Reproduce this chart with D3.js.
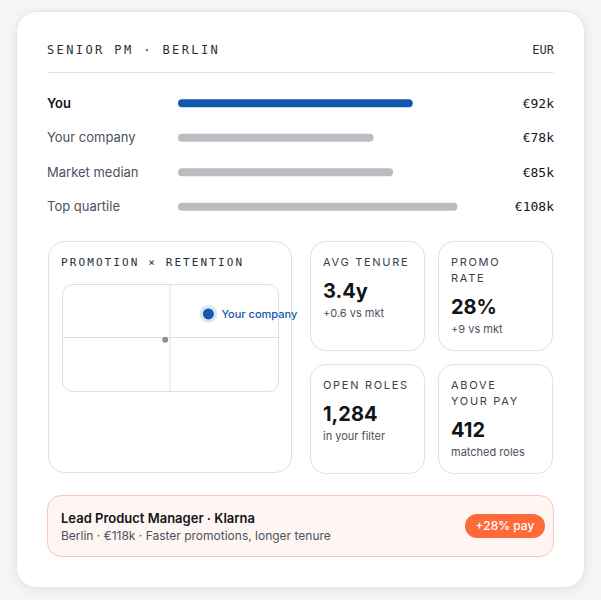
<!DOCTYPE html>
<html>
<head>
<meta charset="utf-8">
<script src="https://cdn.jsdelivr.net/npm/d3@7"></script>
<style>
  html, body { margin: 0; padding: 0; background: #f4f5f7; }
  svg { display: block; }
  text { font-family: Inter, "Liberation Sans", Arial, sans-serif; }
  .mono { font-family: "DejaVu Sans Mono", monospace; }
</style>
</head>
<body>
<div id="chart"></div>
<script>
// salary comparison
const rowLabels = ["You", "Your company", "Market median", "Top quartile"];
const salaries = [92, 78, 85, 108];

// quadrant: promotion rate (%) vs tenure (years)
const quadNames = ["Market", "Your company"];
const promoRates = [19, 28];
const tenures = [2.8, 3.4];

// stat tiles
const statLabels = [["AVG TENURE"], ["PROMO", "RATE"], ["OPEN ROLES"], ["ABOVE", "YOUR PAY"]];
const statValues = ["3.4y", "28%", "1,284", "412"];
const statNotes = ["+0.6 vs mkt", "+9 vs mkt", "in your filter", "matched roles"];

const W = 601, H = 600;
const svg = d3.select("#chart").append("svg")
    .attr("width", W).attr("height", H);

const defs = svg.append("defs");
const f = defs.append("filter").attr("id", "shadow")
    .attr("x", "-10%").attr("y", "-10%").attr("width", "120%").attr("height", "120%");
f.append("feDropShadow").attr("dx", 0).attr("dy", 2).attr("stdDeviation", 4)
    .attr("flood-color", "#000").attr("flood-opacity", 0.08);

// card
svg.append("rect")
    .attr("x", 16.5).attr("y", 11.5).attr("width", 568).attr("height", 576)
    .attr("rx", 20)
    .attr("fill", "#fff").attr("stroke", "#e3e5e8")
    .attr("filter", "url(#shadow)");

// header
svg.append("text").attr("class", "mono")
    .attr("x", 47).attr("y", 54)
    .attr("font-size", 12).attr("letter-spacing", 2.4)
    .attr("fill", "#2b2f36")
    .text("SENIOR PM · BERLIN");
svg.append("text").attr("class", "mono")
    .attr("x", 554).attr("y", 54).attr("text-anchor", "end")
    .attr("font-size", 12).attr("fill", "#2b2f36")
    .text("EUR");
svg.append("line")
    .attr("x1", 47).attr("x2", 554).attr("y1", 72.5).attr("y2", 72.5)
    .attr("stroke", "#e2e4e7").attr("stroke-width", 1.2);

// bars
const y = d3.scaleBand().domain(rowLabels).range([86, 224]);
const x = d3.scaleLinear().domain([8, 120]).range([178, 491]);

const rows = svg.append("g").selectAll("g")
    .data(rowLabels.map((d, i) => ({ label: d, value: salaries[i], i: i })))
    .join("g")
    .attr("transform", d => "translate(0," + (y(d.label) + y.bandwidth() / 2) + ")");

rows.append("text")
    .attr("x", 47).attr("dy", "0.35em")
    .attr("font-size", 13)
    .attr("font-weight", d => d.i === 0 ? 600 : 400)
    .attr("fill", d => d.i === 0 ? "#111418" : "#4a5260")
    .text(d => d.label);

rows.append("line")
    .attr("x1", x(8) + 4).attr("x2", d => x(d.value) - 4)
    .attr("stroke", d => d.i === 0 ? "#1259ad" : "#b9bcc0")
    .attr("stroke-width", 8).attr("stroke-linecap", "round");

rows.append("text").attr("class", "mono")
    .attr("x", 554).attr("dy", "0.35em").attr("text-anchor", "end")
    .attr("font-size", 13).attr("fill", "#111418")
    .text(d => "€" + d.value + "k");

// promotion x retention panel
svg.append("rect")
    .attr("x", 48.5).attr("y", 241.5).attr("width", 243).attr("height", 231)
    .attr("rx", 16).attr("fill", "#fff").attr("stroke", "#dfe1e4");
svg.append("text").attr("class", "mono")
    .attr("x", 61).attr("y", 266)
    .attr("font-size", 11).attr("letter-spacing", 2.1).attr("fill", "#2b2f36")
    .text("PROMOTION × RETENTION");

const qx = d3.scaleLinear().domain([-2.5, 42.5]).range([62, 278]);
const qy = d3.scaleLinear().domain([1.6, 4.1]).range([391, 284]);

const quad = svg.append("g");
quad.append("rect")
    .attr("x", qx(-2.5) + 0.5).attr("y", qy(4.1) + 0.5)
    .attr("width", qx(42.5) - qx(-2.5)).attr("height", qy(1.6) - qy(4.1))
    .attr("rx", 10).attr("fill", "#fff").attr("stroke", "#dcdee1");
quad.append("line")
    .attr("x1", qx(20)).attr("x2", qx(20))
    .attr("y1", qy(4.1)).attr("y2", qy(1.6))
    .attr("stroke", "#dcdee1");
quad.append("line")
    .attr("x1", qx(-2.5)).attr("x2", qx(42.5))
    .attr("y1", qy(2.85)).attr("y2", qy(2.85))
    .attr("stroke", "#dcdee1");

const pts = quadNames.map((n, i) => ({ name: n, p: promoRates[i], t: tenures[i], i: i }));
quad.selectAll("circle.halo").data(pts.filter(d => d.i === 1)).join("circle")
    .attr("class", "halo")
    .attr("cx", d => qx(d.p)).attr("cy", d => qy(d.t)).attr("r", 9)
    .attr("fill", "#dde7f4");
quad.selectAll("circle.pt").data(pts).join("circle")
    .attr("class", "pt")
    .attr("cx", d => qx(d.p)).attr("cy", d => qy(d.t))
    .attr("r", d => d.i === 1 ? 5.5 : 3)
    .attr("fill", d => d.i === 1 ? "#1259ad" : "#8d9197");
quad.selectAll("text").data(pts.filter(d => d.i === 1)).join("text")
    .attr("x", d => qx(d.p) + 13).attr("y", d => qy(d.t)).attr("dy", "0.35em")
    .attr("font-size", 11).attr("font-weight", 500).attr("fill", "#1259ad")
    .text(d => d.name);

// stat tiles
const tilePos = [[310, 241], [438, 241], [310, 364], [438, 364]];
const tiles = svg.append("g").selectAll("g")
    .data(statValues.map((v, i) => ({ v: v, label: statLabels[i], note: statNotes[i], pos: tilePos[i] })))
    .join("g")
    .attr("transform", d => "translate(" + d.pos[0] + "," + d.pos[1] + ")");

tiles.append("rect")
    .attr("x", 0.5).attr("y", 0.5).attr("width", 114).attr("height", 109)
    .attr("rx", 15).attr("fill", "#fff").attr("stroke", "#dfe1e4");
tiles.each(function(d) {
    const g = d3.select(this);
    d.label.forEach((l, k) => {
        g.append("text")
            .attr("x", 13).attr("y", 25 + k * 16)
            .attr("font-size", 11).attr("letter-spacing", 1.7)
            .attr("fill", "#3a404a")
            .text(l);
    });
    const off = (d.label.length - 1) * 16;
    g.append("text")
        .attr("x", 13).attr("y", 57 + off)
        .attr("font-size", 20).attr("font-weight", 700).attr("fill", "#111418")
        .text(d.v);
    g.append("text")
        .attr("x", 13).attr("y", 76 + off)
        .attr("font-size", 11).attr("fill", "#4a5260")
        .text(d.note);
});

// job banner
svg.append("rect")
    .attr("x", 47.5).attr("y", 495.5).attr("width", 506).attr("height", 61)
    .attr("rx", 14).attr("fill", "#fff5f3").attr("stroke", "#fbc4b3");
svg.append("text")
    .attr("x", 61).attr("y", 523)
    .attr("font-size", 13).attr("font-weight", 600).attr("fill", "#111418")
    .text("Lead Product Manager · Klarna");
svg.append("text")
    .attr("x", 61).attr("y", 540)
    .attr("font-size", 12).attr("fill", "#4a5260")
    .text("Berlin · €118k · Faster promotions, longer tenure");
svg.append("rect")
    .attr("x", 465).attr("y", 514).attr("width", 80).attr("height", 24)
    .attr("rx", 12).attr("fill", "#ff6a3a");
svg.append("text")
    .attr("x", 505).attr("y", 526).attr("dy", "0.35em").attr("text-anchor", "middle")
    .attr("font-size", 12).attr("font-weight", 500).attr("fill", "#fff")
    .text("+28% pay");
</script>
</body>
</html>
